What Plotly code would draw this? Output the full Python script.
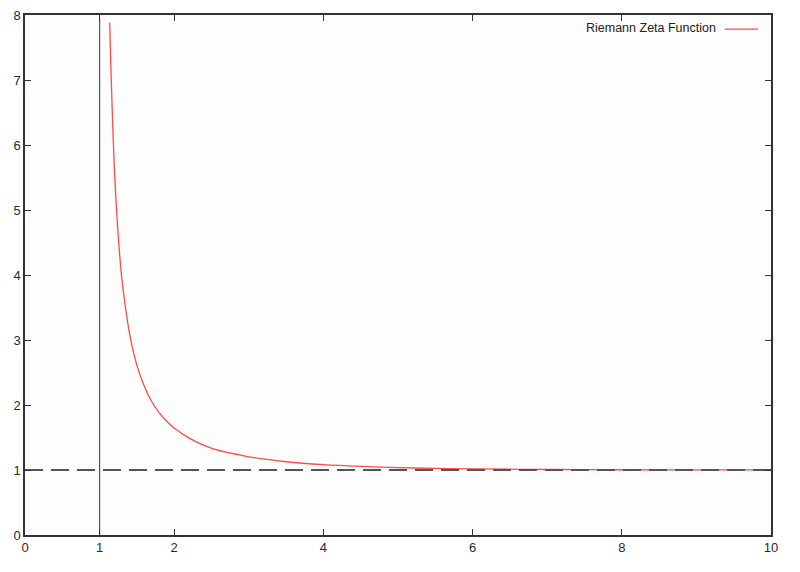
import plotly.graph_objects as go

# Values
s_values = [1.135, 1.15, 1.2, 1.25, 1.3, 1.4, 1.5, 1.6, 1.7, 1.8, 1.9, 2.0, 2.2, 2.4, 2.6,
            2.8, 3.0, 3.5, 4.0, 4.5, 5.0, 5.5, 6.0, 7.0, 8.0, 9.0, 10.0]
zeta_values = [7.88, 7.24, 5.59, 4.60, 3.93, 3.11, 2.61, 2.29, 2.05, 1.88, 1.75, 1.645, 1.49,
               1.38, 1.30, 1.25, 1.202, 1.127, 1.082, 1.055, 1.037, 1.025, 1.017, 1.008,
               1.004, 1.002, 1.001]
pole_x = [1, 1]
pole_y = [0, 7.95]
asym_x = [0, 10]
asym_y = [1, 1]
x_ticks = [0, 1, 2, 4, 6, 8, 10]
y_ticks = [0, 1, 2, 3, 4, 5, 6, 7, 8]
legend_label = "Riemann Zeta Function"

fig = go.Figure()
fig.add_trace(go.Scatter(x=pole_x, y=pole_y, mode="lines",
                         line=dict(color="#555555", width=1.2), showlegend=False, hoverinfo="skip"))
fig.add_trace(go.Scatter(x=s_values, y=zeta_values, mode="lines", name=legend_label,
                         line=dict(color="#ff4a4a", width=1.3, shape="spline"), showlegend=False))
fig.add_trace(go.Scatter(x=asym_x, y=asym_y, mode="lines",
                         line=dict(color="#555555", width=2, dash="18px,8px"),
                         showlegend=False, hoverinfo="skip"))

axis_common = dict(showline=True, mirror="ticks", linecolor="#333333", linewidth=1.5,
                   ticks="inside", ticklen=6, tickcolor="#333333", showgrid=False,
                   zeroline=False, ticklabeloverflow="allow",
                   tickfont=dict(family="Liberation Sans, Arial", size=13, color="#2a2a2a"))
fig.update_xaxes(range=[0, 10], tickvals=x_ticks, ticktext=[str(v) for v in x_ticks], **axis_common)
fig.update_yaxes(range=[0, 8], tickvals=y_ticks, ticktext=[str(v) for v in y_ticks], **axis_common)

# gnuplot-style key: text then sample line
fig.add_annotation(xref="paper", yref="paper", x=0.929, y=0.975, xanchor="right", yanchor="middle",
                   text=legend_label, showarrow=False,
                   font=dict(family="Liberation Sans, Arial", size=12.5, color="#222222"))
fig.add_shape(type="line", xref="paper", yref="paper", x0=0.938, x1=0.9826, y0=0.973, y1=0.973,
              line=dict(color="#ff4a4a", width=1.3))

fig.update_layout(width=800, height=572, margin=dict(l=17, r=37, t=7, b=45, autoexpand=False),
                  paper_bgcolor="#ffffff", plot_bgcolor="#fdfdfd", showlegend=False)

fig.write_html("out.html")
